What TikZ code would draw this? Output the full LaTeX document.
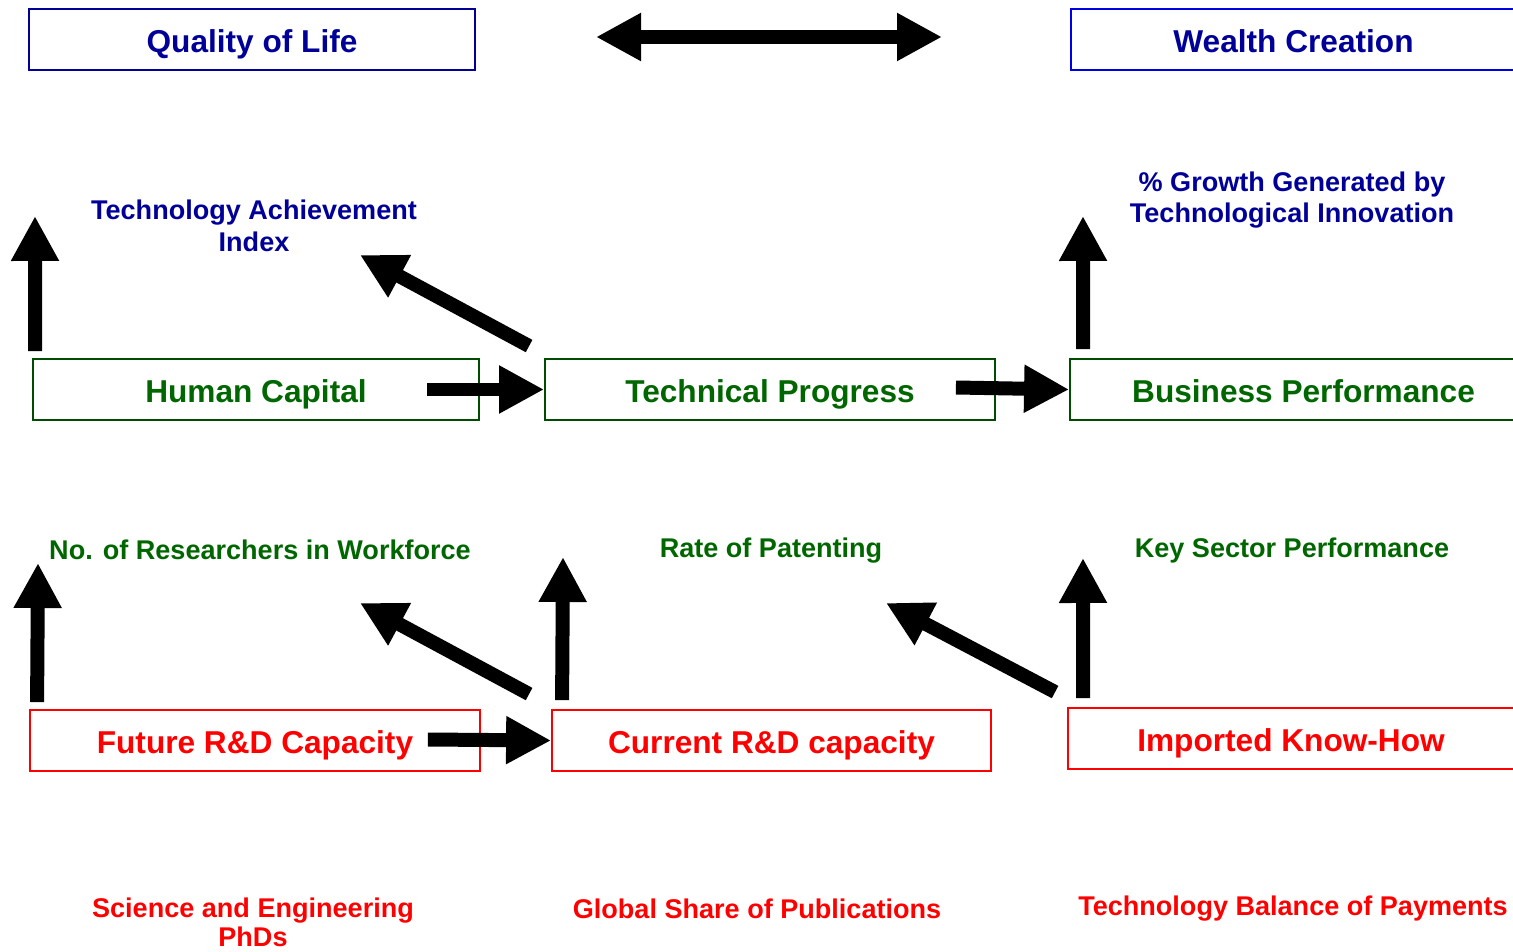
\documentclass[tikz,border=0pt]{standalone}
\usepackage{fontspec}
\setmainfont{Liberation Sans}
\usepackage{tikz}
\usetikzlibrary{
  arrows.meta,
  positioning,
  calc
}
\usepackage{xcolor}
\definecolor{navyBlue}{rgb}{0,0,0.6}
\definecolor{pureBlue}{rgb}{0,0,0.9}
\definecolor{leafGreen}{rgb}{0,0.4,0}
\definecolor{edgeGreen}{rgb}{0,0.3,0}
\definecolor{signalRed}{rgb}{1,0,0}
\tikzset{
  box/.style={
    draw,
    line width=1.1pt,
    inner sep=0pt,
    minimum width=8.92cm,
    minimum height=1.22cm,
    text height=15.3pt,
    text depth=0pt,
    font=\bfseries\fontsize{18}{21}\selectfont
  },
  tag/.style={
    align=center,
    inner sep=0pt,
    font=\bfseries\fontsize{15.4}{18.1}\selectfont
  },
  fatArrow/.style={
    line width=0.28cm,
    -{Triangle[length=0.9cm,width=0.9cm]}
  }
}

\begin{document}
\begin{tikzpicture}[x=0.02cm, y=-0.02cm]
  \useasboundingbox (0,0) rectangle (1513,952);

  % outcome boxes
  \node[box, draw=navyBlue, text=navyBlue] (qol) at (252,39.5) {Quality of Life};
  \node[box, draw=pureBlue, text=navyBlue] (wc) at (1293.5,39.5) {Wealth Creation};

  % middle row
  \node[box, draw=edgeGreen, text=leafGreen] (hc) at (256,389.5) {Human Capital};
  \node[box, draw=edgeGreen, text=leafGreen, minimum width=9cm] (tp) at (770,389.5) {Technical Progress};
  \node[box, draw=edgeGreen, text=leafGreen] (bp) at (1293,389.5) {\hspace{12pt}Business Performance};

  % input row
  \node[box, draw=signalRed, text=signalRed, minimum width=9cm] (frd) at (255,740.5) {Future R\&D Capacity};
  \node[box, draw=signalRed, text=signalRed, minimum width=8.78cm] (crd) at (771.5,740.5) {Current R\&D capacity};
  \node[box, draw=signalRed, text=signalRed] (ikh) at (1291,738.5) {Imported Know-How};

  % indicators
  \node[tag, text=navyBlue] (tai) at (254,226) {Technology Achievement\\Index};
  \node[tag, text=navyBlue] (growth) at (1292,200) {\% Growth Generated by\\Technological Innovation};
  \node[tag, text=leafGreen] (researchers) at (260,550) {No. of Researchers in Workforce};
  \node[tag, text=leafGreen] (patents) at (771,551) {Rate of Patenting};
  \node[tag, text=leafGreen] (sectors) at (1292,551) {Key Sector Performance};
  \node[tag, text=signalRed] (phds) at (253,922) {Science and Engineering\\[-1.5pt]PhDs};
  \node[tag, text=signalRed] (pubs) at (757,909) {Global Share of Publications};
  \node[tag, text=signalRed] (payments) at (1293,909) {Technology Balance of Payments};

  % arrow heads that point into open space
  \coordinate (qolEnd) at (596,37);
  \coordinate (wcEnd) at (942,37);
  \coordinate (hcUp) at (35,216);
  \coordinate (taiIn) at (360,255);
  \coordinate (bpUp) at (1083,216);
  \coordinate (frdUp) at (38,563);
  \coordinate (researchersIn) at (360,603);
  \coordinate (crdUp) at (563,557);
  \coordinate (patentsIn) at (886,603);
  \coordinate (ikhUp) at (1083,558);

  \draw[fatArrow, {Triangle[length=0.9cm,width=0.9cm]}-{Triangle[length=0.9cm,width=0.9cm]}]
    (qolEnd) -- (wcEnd);

  \foreach \b/\dx/\dy/\tip in {hc/3/-7/hcUp, bp/14/-9/bpUp, frd/8/-7/frdUp,
                               crd/11/-9/crdUp, ikh/16/-9/ikhUp}{
    \draw[fatArrow] ($(\b.north west)+(\dx,\dy)$) -- (\tip);
  }

  \draw[fatArrow] ($(tp.north west)+(-15,-12)$) -- (taiIn);
  \draw[fatArrow] ($(crd.north west)+(-22,-15)$) -- (researchersIn);
  \draw[fatArrow] ($(ikh.north west)+(-12,-15)$) -- (patentsIn);

  \draw[fatArrow] ($(hc.east)+(-53,0)$) -- (tp.west);
  \draw[fatArrow] ($(tp.east)+(-40,-2)$) -- (bp.west);
  \draw[fatArrow] ($(frd.east)+(-53,-1)$) -- (crd.west);
\end{tikzpicture}
\end{document}
